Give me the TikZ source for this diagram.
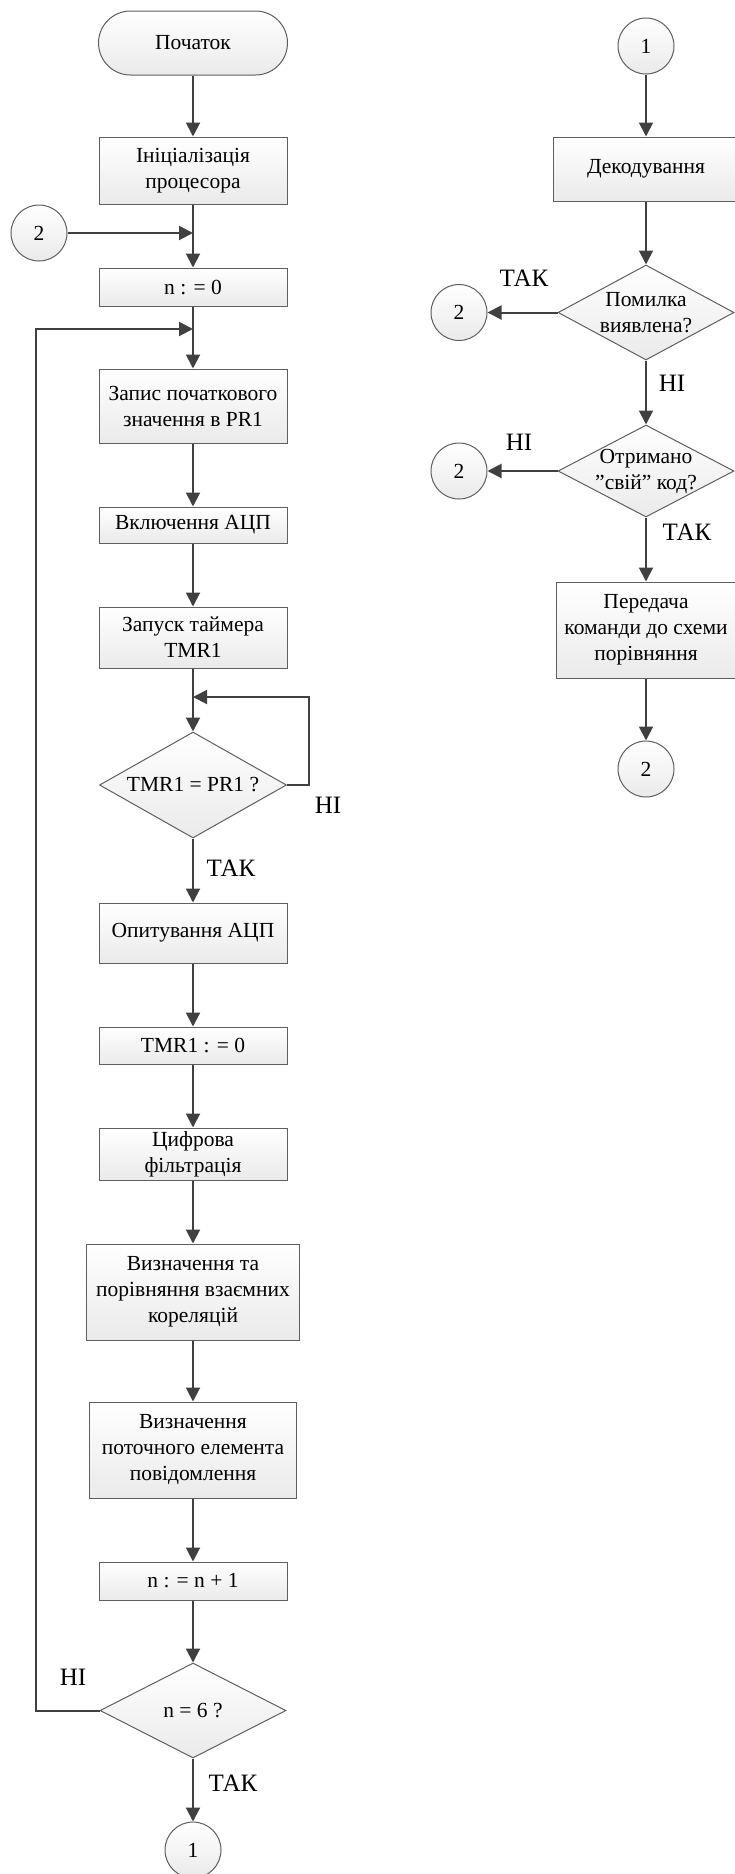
\documentclass[tikz,border=0pt]{standalone}
\usepackage{fontspec}
\setmainfont{Liberation Serif}
\usetikzlibrary{shapes.geometric,arrows.meta}
\definecolor{bordc}{HTML}{5F5F5F}
\definecolor{linec}{HTML}{404040}
\definecolor{fillc}{HTML}{EAEAEA}
\newcommand\mainfs{\fontsize{21.5}{26}\selectfont}
\newcommand\lblfs{\fontsize{25}{30}\selectfont}
\tikzset{
  shadefill/.style={top color=white,bottom color=fillc,draw=bordc,line width=1pt},
  boxnode/.style={shadefill,rectangle,inner sep=0pt,align=center,font=\mainfs},
  termnode/.style={shadefill,rectangle,rounded corners=32pt,inner sep=0pt,align=center,font=\mainfs,minimum width=189pt,minimum height=64pt},
  decnode/.style={shadefill,diamond,inner sep=0pt},
  conn/.style={shadefill,circle,inner sep=0pt,minimum size=56pt,font=\mainfs},
  txt/.style={inner sep=0pt,align=center,font=\mainfs},
  lbl/.style={inner sep=0pt,font=\lblfs},
  arr/.style={draw=linec,line width=2pt,-{Triangle[length=14pt,width=14pt]}},
  ln/.style={draw=linec,line width=2pt}
}
\begin{document}
\begin{tikzpicture}[x=1pt,y=-1pt]
\useasboundingbox (0,0) rectangle (734,1874);
% left column
\node[termnode] (start) at (193,43) {Початок};
\node[boxnode,minimum width=188pt,minimum height=67pt] (init) at (193,170.5) {Ініціалізація\\процесора};
\node[conn] (c2a) at (39,233) {2};
\coordinate (mA) at (193,233);
\node[boxnode,minimum width=188pt,minimum height=38pt] (n0) at (193,287) {n : = 0};
\coordinate (mB) at (193,329);
\node[boxnode,minimum width=188pt,minimum height=74pt] (zap) at (193,406) {Запис початкового\\значення в PR1};
\node[boxnode,minimum width=188pt,minimum height=36pt] (vkl) at (193,525) {Включення АЦП};
\node[boxnode,minimum width=188pt,minimum height=61pt] (tim) at (193,637.5) {Запуск таймера\\TMR1};
\coordinate (mC) at (193,697);
\node[decnode,minimum width=187pt,minimum height=106pt] (d1) at (193,785) {};
\node[txt] (d1t) at (193,785) {TMR1 = PR1 ?};
\coordinate (tl) at (309,697);
\node[boxnode,minimum width=188pt,minimum height=60pt] (opyt) at (193,933) {Опитування АЦП};
\node[boxnode,minimum width=188pt,minimum height=37pt] (tmr0) at (193,1045.5) {TMR1 : = 0};
\node[boxnode,minimum width=188pt,minimum height=52pt] (cyf) at (193,1154) {Цифрова\\фільтрація};
\node[boxnode,minimum width=213pt,minimum height=96pt] (vyz1) at (193,1292) {Визначення та\\порівняння взаємних\\кореляцій};
\node[boxnode,minimum width=207pt,minimum height=96pt] (vyz2) at (193,1450) {Визначення\\поточного елемента\\повідомлення};
\node[boxnode,minimum width=188pt,minimum height=38pt] (inc) at (193,1581) {n : = n + 1};
\node[decnode,minimum width=186pt,minimum height=95pt] (d2) at (193,1710.5) {};
\node[txt] (d2t) at (193,1710.5) {n = 6 ?};
\coordinate (lp) at (36,329);
\node[conn] (c1a) at (193,1850) {1};
% labels left
\node[lbl] (l1) at (328,805) {НІ};
\node[lbl] (l2) at (231,868) {ТАК};
\node[lbl] (l3) at (73,1677) {НІ};
\node[lbl] (l4) at (233,1783) {ТАК};
% right column
\node[conn] (c1b) at (646,46) {1};
\node[boxnode,minimum width=186pt,minimum height=64pt] (dek) at (646,169) {Декодування};
\node[decnode,minimum width=176pt,minimum height=95pt] (d3) at (646,312.5) {};
\node[txt] (d3t) at (646,312.5) {Помилка\\виявлена?};
\node[conn] (c2b) at (459,312.5) {2};
\node[decnode,minimum width=176pt,minimum height=92pt] (d4) at (646,471) {};
\node[txt] (d4t) at (646,471) {Отримано\\”свій” код?};
\node[conn] (c2c) at (459,471) {2};
\node[boxnode,minimum width=180pt,minimum height=96pt] (per) at (646,630) {Передача\\команди до схеми\\порівняння};
\node[conn] (c2d) at (646,769) {2};
\node[lbl] (r1) at (524,278) {ТАК};
\node[lbl] (r2) at (672,383) {НІ};
\node[lbl] (r3) at (519,442) {НІ};
\node[lbl] (r4) at (687,532) {ТАК};
% connectors left
\draw[arr] (start) -- (init);
\draw[arr] (init) -- (n0);
\draw[arr] (c2a) -- (mA);
\draw[arr] (n0) -- (zap);
\draw[arr] (zap) -- (vkl);
\draw[arr] (vkl) -- (tim);
\draw[arr] (tim) -- (d1);
\draw[arr] (d1.east) -| (tl) -- (mC);
\draw[arr] (d1) -- (opyt);
\draw[arr] (opyt) -- (tmr0);
\draw[arr] (tmr0) -- (cyf);
\draw[arr] (cyf) -- (vyz1);
\draw[arr] (vyz1) -- (vyz2);
\draw[arr] (vyz2) -- (inc);
\draw[arr] (inc) -- (d2);
\draw[arr] (d2.west) -| (lp) -- (mB);
\draw[arr] (d2) -- (c1a);
% connectors right
\draw[arr] (c1b) -- (dek);
\draw[arr] (dek) -- (d3);
\draw[arr] (d3.west) -- (c2b);
\draw[arr] (d3) -- (d4);
\draw[arr] (d4.west) -- (c2c);
\draw[arr] (d4) -- (per);
\draw[arr] (per) -- (c2d);
\end{tikzpicture}
\end{document}
